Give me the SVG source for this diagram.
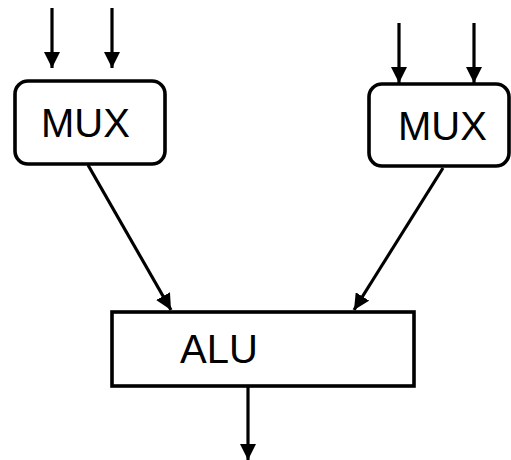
<svg xmlns="http://www.w3.org/2000/svg" width="511" height="460" viewBox="0 0 511 460">
  <style>
    .box { fill: #ffffff; stroke: #000000; stroke-width: 3.6; }
    .lbl { font-family: "Liberation Sans", Arial, sans-serif; font-size: 40px; fill: #000000; }
    .wire { stroke: #000000; stroke-width: 3.2; fill: none; marker-end: url(#arrow); }
  </style>
  <defs>
    <marker id="arrow" markerUnits="userSpaceOnUse" markerWidth="16" markerHeight="16" viewBox="0 0 16 16" refX="16" refY="8" orient="auto">
      <path d="M0,0 L16,8 L0,16 Z" fill="#000000"/>
    </marker>
  </defs>
  <g id="connectors">
    <line class="wire" x1="52" y1="8" x2="52" y2="68"/>
    <line class="wire" x1="112" y1="8" x2="112" y2="68"/>
    <line class="wire" x1="399" y1="23" x2="399" y2="83"/>
    <line class="wire" x1="474" y1="23" x2="474" y2="83"/>
    <line class="wire" x1="88" y1="165" x2="171" y2="310"/>
    <line class="wire" x1="443" y1="168" x2="354" y2="310"/>
    <line class="wire" x1="248" y1="387" x2="248" y2="460"/>
  </g>
  <g id="mux-left">
    <rect class="box" x="15" y="81" width="150" height="83" rx="13" ry="13"/>
    <text class="lbl" x="41" y="137">MUX</text>
  </g>
  <g id="mux-right">
    <rect class="box" x="369" y="84" width="140" height="82" rx="13" ry="13"/>
    <text class="lbl" x="398" y="140">MUX</text>
  </g>
  <g id="alu">
    <rect class="box" x="112" y="312" width="302" height="74"/>
    <text class="lbl" x="180" y="363">ALU</text>
  </g>
</svg>
